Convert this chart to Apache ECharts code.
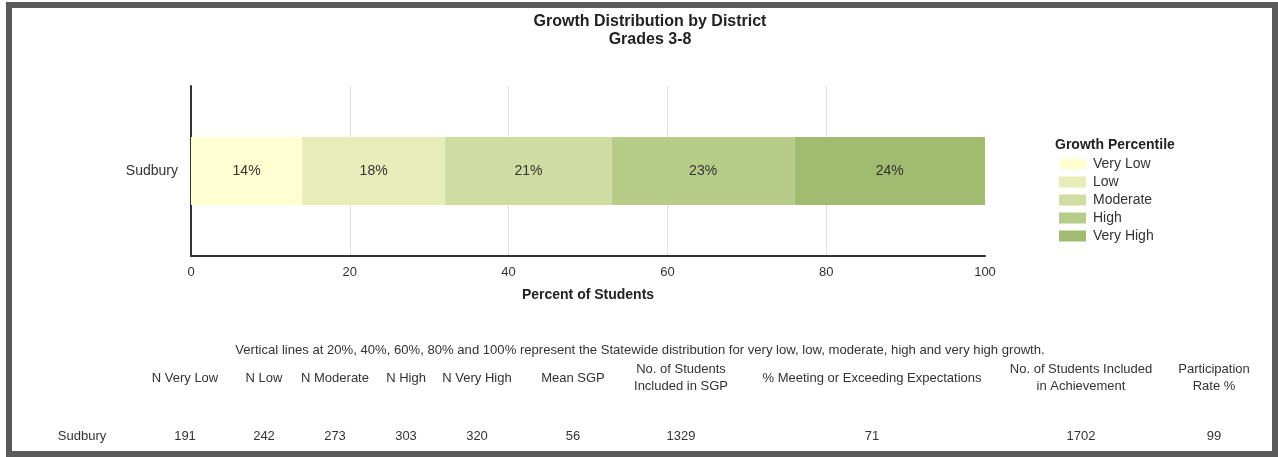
<!DOCTYPE html>
<html>
<head>
<meta charset="utf-8">
<style>
  html, body { margin: 0; padding: 0; background: #fff; }
  #chart { width: 1278px; height: 457px; }
</style>
<script src="https://cdn.jsdelivr.net/npm/echarts@6/dist/echarts.min.js"></script>
</head>
<body>
<div id="chart"></div>
<script>
// District growth distribution (percent of students per growth band)
const districts = ['Sudbury'];
const growthBands = ['Very Low', 'Low', 'Moderate', 'High', 'Very High'];
const veryLow = [14];
const low = [18];
const moderate = [21];
const high = [23];
const veryHigh = [24];
const xTicks = [0, 20, 40, 60, 80, 100];

// Summary table under the chart
const tableHeaders = [
  'N Very Low', 'N Low', 'N Moderate', 'N High', 'N Very High', 'Mean SGP',
  'No. of Students\nIncluded in SGP', '% Meeting or Exceeding Expectations',
  'No. of Students Included\nin Achievement', 'Participation\nRate %'
];
const tableRowLabel = 'Sudbury';
const tableValues = [191, 242, 273, 303, 320, 56, 1329, 71, 1702, 99];

const noteText = 'Vertical lines at 20%, 40%, 60%, 80% and 100% represent the Statewide distribution for very low, low, moderate, high and very high growth.';

// Layout (pixel positions of the table columns)
const rowLabelX = 82;
const columnX = [185, 264, 335, 406, 477, 573, 681, 872, 1081, 1214];

const bandColors = ['#FFFFD2', '#E6EDB9', '#D0DDA2', '#B8CC8A', '#A1BB70'];
const bandValues = [veryLow, low, moderate, high, veryHigh];
const font = 'Liberation Sans, Arial, sans-serif';
const textColor = '#333';

const series = growthBands.map((name, i) => ({
  name: name,
  type: 'bar',
  stack: 'growth',
  barWidth: 68,
  data: bandValues[i],
  itemStyle: { color: bandColors[i] },
  label: {
    show: true,
    position: 'inside',
    formatter: '{c}%',
    color: textColor,
    fontFamily: font,
    fontSize: 14
  },
  emphasis: { disabled: true }
}));

const graphics = [
  {
    type: 'rect',
    shape: { x: 9, y: 5, width: 1266, height: 449 },
    style: { fill: 'none', stroke: '#5a5a5a', lineWidth: 6 },
    z: 100
  },
  {
    type: 'text',
    x: 640, y: 350,
    style: {
      text: noteText, fill: textColor, font: '13.1px ' + font,
      textAlign: 'center', textVerticalAlign: 'middle'
    }
  },
  {
    type: 'text',
    x: rowLabelX, y: 436,
    style: {
      text: tableRowLabel, fill: textColor, font: '13px ' + font,
      textAlign: 'center', textVerticalAlign: 'middle'
    }
  }
];

tableHeaders.forEach((h, i) => {
  graphics.push({
    type: 'text',
    x: columnX[i], y: 378,
    style: {
      text: h, fill: textColor, font: '13px ' + font, lineHeight: 17,
      textAlign: 'center', textVerticalAlign: 'middle'
    }
  });
  graphics.push({
    type: 'text',
    x: columnX[i], y: 436,
    style: {
      text: String(tableValues[i]), fill: textColor, font: '13px ' + font,
      textAlign: 'center', textVerticalAlign: 'middle'
    }
  });
});

const chart = echarts.init(document.getElementById('chart'), null, { renderer: 'canvas' });
chart.setOption({
  backgroundColor: '#fff',
  animation: false,
  title: [
    {
      text: 'Growth Distribution by District\nGrades 3-8',
      left: 645, top: 8, textAlign: 'center',
      textStyle: { fontFamily: font, fontSize: 16, fontWeight: 'bold', color: '#222', lineHeight: 18 }
    },
    {
      text: 'Growth Percentile',
      left: 1050, top: 133,
      textStyle: { fontFamily: font, fontSize: 14, fontWeight: 'bold', color: '#222' }
    }
  ],
  legend: {
    orient: 'vertical',
    left: 1059, top: 157,
    padding: 0,
    itemWidth: 27, itemHeight: 11, itemGap: 4,
    icon: 'rect',
    selectedMode: false,
    data: growthBands,
    textStyle: { fontFamily: font, fontSize: 14, color: textColor, padding: [0, 0, 0, 2] }
  },
  grid: { left: 191, right: 293, top: 86, bottom: 201 },
  xAxis: {
    type: 'value',
    min: xTicks[0], max: xTicks[xTicks.length - 1], interval: 20,
    name: 'Percent of Students',
    nameLocation: 'middle', nameGap: 32,
    nameTextStyle: { fontFamily: font, fontSize: 14, fontWeight: 'bold', color: '#222' },
    axisLine: { show: true, lineStyle: { color: '#333', width: 2 } },
    axisTick: { show: false },
    axisLabel: { fontFamily: font, fontSize: 13, color: textColor, margin: 10 },
    splitLine: { show: true, showMinLine: false, showMaxLine: false, lineStyle: { color: '#e0e0e0', width: 1 } }
  },
  yAxis: {
    type: 'category',
    data: districts,
    axisLine: { show: true, lineStyle: { color: '#333', width: 2 } },
    axisTick: { show: false },
    axisLabel: { fontFamily: font, fontSize: 14, color: textColor, margin: 13 },
    splitLine: { show: false }
  },
  series: series,
  graphic: graphics
});
</script>
</body>
</html>
